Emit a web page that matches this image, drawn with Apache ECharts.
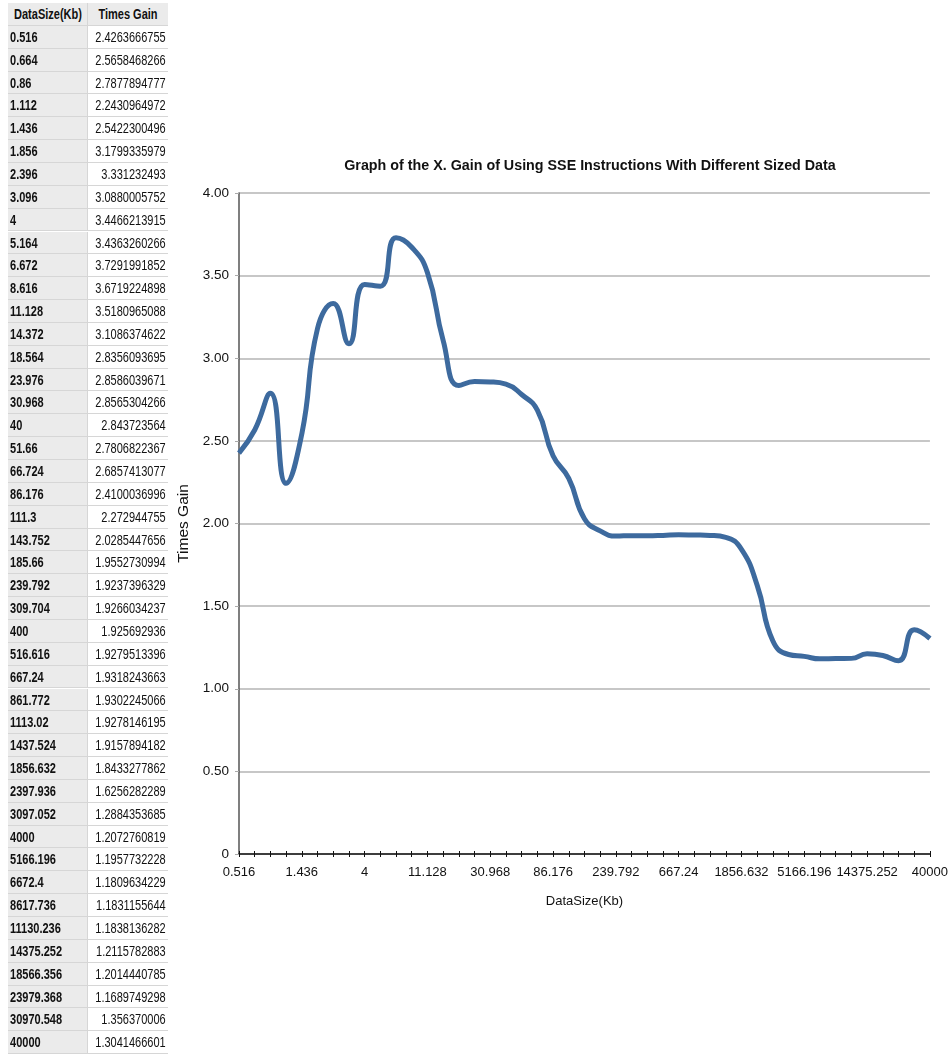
<!DOCTYPE html>
<html>
<head>
<meta charset="utf-8">
<script src="https://cdn.jsdelivr.net/npm/echarts@6/dist/echarts.min.js"></script>
<style>
html,body{margin:0;padding:0;background:#fff;width:951px;height:1055px;overflow:hidden;}
#tbl{position:absolute;left:0;top:0;width:170px;height:1055px;font-family:"Liberation Sans",Arial,sans-serif;font-size:14.5px;color:#111;}
.c{position:absolute;box-sizing:border-box;height:22.85px;white-space:nowrap;border-bottom:1px solid #d6d6d6;}
.c span{position:absolute;top:0;line-height:22px;}
.c1{left:8px;width:80px;background:#ebebeb;font-weight:bold;border-right:1px solid #d6d6d6;}
.c1 span{left:2px;transform:scaleX(0.76);transform-origin:left center;}
.c2{left:88px;width:80px;background:#fff;}
.c2 span{right:2px;transform:scaleX(0.76);transform-origin:right center;}
.h{background:#ebebeb;font-weight:bold;}
.h span{left:50%;right:auto;transform:translateX(-50%) scaleX(0.76);transform-origin:center center;}
#chart{position:absolute;left:0;top:0;width:951px;height:1055px;}
</style>
</head>
<body>
<div id="chart"></div>
<div id="tbl"></div>
<script>
const headers = ["DataSize(Kb)", "Times Gain"];
const dataSize = ["0.516","0.664","0.86","1.112","1.436","1.856","2.396","3.096","4","5.164","6.672","8.616","11.128","14.372","18.564","23.976","30.968","40","51.66","66.724","86.176","111.3","143.752","185.66","239.792","309.704","400","516.616","667.24","861.772","1113.02","1437.524","1856.632","2397.936","3097.052","4000","5166.196","6672.4","8617.736","11130.236","14375.252","18566.356","23979.368","30970.548","40000"];
const timesGain = [2.4263666755,2.5658468266,2.7877894777,2.2430964972,2.5422300496,3.1799335979,3.331232493,3.0880005752,3.4466213915,3.4363260266,3.7291991852,3.6719224898,3.5180965088,3.1086374622,2.8356093695,2.8586039671,2.8565304266,2.843723564,2.7806822367,2.6857413077,2.4100036996,2.272944755,2.0285447656,1.9552730994,1.9237396329,1.9266034237,1.925692936,1.9279513396,1.9318243663,1.9302245066,1.9278146195,1.9157894182,1.8433277862,1.6256282289,1.2884353685,1.2072760819,1.1957732228,1.1809634229,1.1831155644,1.1838136282,1.2115782883,1.2014440785,1.1689749298,1.356370006,1.3041466601];
const chartTitle = "Graph of the X. Gain of Using SSE Instructions With Different Sized Data";
const xName = "DataSize(Kb)";
const yName = "Times Gain";

// table
const tbl = document.getElementById('tbl');
const rowH = 22.85, top0 = 3;
function cell(cls, text, top){
  const d = document.createElement('div');
  d.className = 'c ' + cls;
  d.style.top = top + 'px';
  const s = document.createElement('span');
  s.textContent = text;
  d.appendChild(s);
  tbl.appendChild(d);
}
cell('c1 h', headers[0], top0);
cell('c2 h', headers[1], top0);
dataSize.forEach((s, i) => {
  const t = top0 + (i + 1) * rowH;
  cell('c1', s, t);
  cell('c2', String(timesGain[i]), t);
});

const chart = echarts.init(document.getElementById('chart'), null, {renderer:'canvas'});
const font = '"Liberation Sans",Arial,sans-serif';
chart.setOption({
  animation:false,
  backgroundColor:'transparent',
  title:{
    text:chartTitle,
    left:585, top:154, textAlign:'center',
    textStyle:{fontFamily:font,fontWeight:'bold',fontSize:14.3,color:'#111'}
  },
  grid:{left:239,right:19,top:193,bottom:201,containLabel:false},
  xAxis:[{
    type:'category',
    data:dataSize,
    boundaryGap:false,
    name:xName,
    nameLocation:'middle',
    nameGap:41,
    nameTextStyle:{fontFamily:font,fontSize:13,color:'#111'},
    axisLine:{lineStyle:{color:'#111',width:1.5}},
    axisTick:{show:true,interval:0,length:3,lineStyle:{color:'#111'}},
    axisLabel:{interval:3,fontFamily:font,fontSize:13,color:'#111',margin:12},
    splitLine:{show:false}
  },{
    type:'category',
    data:dataSize,
    boundaryGap:false,
    position:'bottom',
    axisLine:{show:false},
    axisTick:{show:true,inside:true,interval:0,length:3,lineStyle:{color:'#111'}},
    axisLabel:{show:false},
    splitLine:{show:false}
  }],
  yAxis:{
    type:'value',
    min:0,max:4,interval:0.5,
    name:yName,
    nameLocation:'middle',
    nameGap:43,
    nameTextStyle:{fontFamily:font,fontSize:15.5,color:'#111'},
    axisLine:{show:true,lineStyle:{color:'#555',width:1.5}},
    axisTick:{show:true,length:4,lineStyle:{color:'#aaa'}},
    axisLabel:{fontFamily:font,fontSize:13.5,color:'#111',margin:10,
      formatter:v => v === 0 ? '0' : v.toFixed(2)},
    splitLine:{show:true,lineStyle:{color:'#b4b4b4',width:1.5}}
  },
  series:[{
    type:'line',
    xAxisIndex:0,
    data:timesGain,
    smooth:0.5,
    showSymbol:false,
    lineStyle:{color:'#3D6A9E',width:5},
    itemStyle:{color:'#3D6A9E'}
  }]
});
</script>
</body>
</html>
